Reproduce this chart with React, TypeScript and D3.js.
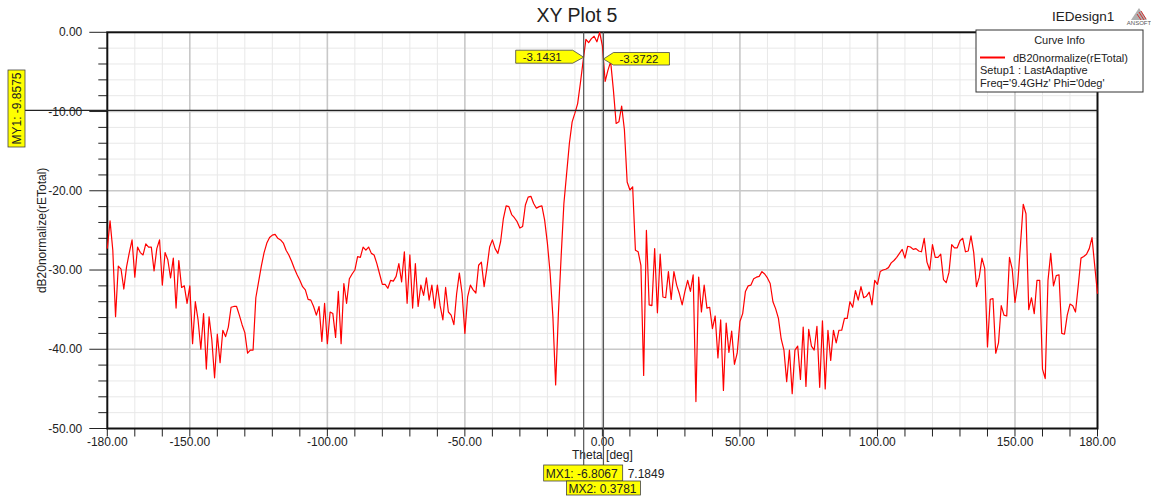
import * as d3 from "d3";

// Theta sweep -180..180 deg, 1 deg step (HFSS far-field cut)
const theta = d3.range(-180, 181, 1);

// dB20normalize(rETotal), one value per degree
const rETotalDb = [
  -27.3, -23.8, -27.5, -35.9, -29.5, -29.9, -32.4, -29.6, -27.8, -26.2,
  -30.9, -27.1, -27.8, -28.1, -26.7, -27.1, -27.1, -30.1, -27.3, -26.2,
  -31.9, -27.8, -28.7, -31.0, -28.5, -34.8, -28.8, -32.2, -32.0, -34.2,
  -32.0, -39.3, -34.0, -36.3, -40.0, -35.5, -42.5, -35.9, -38.8, -43.6,
  -38.1, -41.7, -37.6, -38.4, -37.2, -34.7, -34.6, -34.6, -35.7, -36.9,
  -37.9, -40.5, -40.1, -40.1, -33.5, -31.5, -29.5, -27.8, -26.6, -25.9,
  -25.6, -25.5, -26.0, -26.2, -26.6, -27.5, -28.1, -28.9, -29.8, -30.6,
  -31.3, -32.1, -32.5, -33.7, -33.8, -34.6, -35.7, -34.6, -39.0, -34.2,
  -39.3, -35.3, -35.5, -38.5, -32.7, -39.3, -31.7, -34.2, -31.1, -30.5,
  -30.0, -28.3, -28.4, -27.1, -27.5, -27.1, -27.9, -28.1, -29.2, -30.5,
  -31.8, -31.8, -32.3, -31.3, -31.4, -30.8, -29.2, -31.5, -27.7, -34.2,
  -28.1, -34.8, -29.2, -34.6, -31.9, -33.2, -31.0, -33.8, -31.9, -34.8,
  -31.9, -34.5, -36.3, -32.2, -35.3, -35.7, -36.9, -33.0, -30.4, -33.0,
  -38.0, -33.4, -31.9, -32.5, -32.9, -29.4, -29.0, -32.1, -29.8, -27.1,
  -26.2, -27.3, -27.9, -26.4, -23.5, -21.9, -22.0, -23.0, -23.4, -23.9,
  -24.7, -24.5, -21.8, -20.8, -20.7, -21.6, -22.2, -22.0, -21.9, -23.7,
  -26.6, -30.4, -35.9, -44.5, -35.5, -28.3, -21.6, -17.8, -14.0, -11.3,
  -10.2, -9.0, -6.4, -3.6, -0.9, -1.3, -0.8, -0.5, -1.2, 0.0,
  -1.7, -6.2, -4.8, -3.7, -7.3, -11.5, -11.3, -9.3, -12.3, -18.9,
  -19.9, -19.5, -27.5, -27.7, -29.4, -43.3, -25.0, -34.4, -34.5, -27.3,
  -35.4, -28.0, -33.4, -33.5, -30.2, -33.7, -30.2, -31.9, -33.0, -34.4,
  -32.7, -31.3, -32.7, -30.6, -46.6, -30.9, -35.3, -31.9, -34.8, -34.7,
  -37.4, -35.8, -41.1, -36.3, -45.2, -36.7, -40.4, -37.7, -41.9, -40.5,
  -36.5, -35.5, -32.7, -32.0, -31.9, -31.1, -30.9, -30.8, -30.2, -30.5,
  -31.0, -31.7, -34.0, -34.9, -36.1, -38.7, -40.1, -44.1, -40.1, -45.6,
  -40.1, -39.6, -43.8, -37.2, -44.7, -37.5, -39.6, -40.1, -37.1, -44.8,
  -36.4, -45.0, -37.6, -41.4, -37.6, -39.2, -37.6, -37.6, -36.1, -36.1,
  -34.0, -34.7, -32.6, -33.8, -32.1, -33.5, -33.3, -32.8, -34.4, -31.3,
  -31.8, -30.2, -30.0, -29.9, -29.7, -29.1, -28.8, -28.4, -27.9, -27.4,
  -28.5, -27.0, -27.1, -27.4, -27.3, -27.6, -27.7, -26.0, -29.0, -30.0,
  -26.8, -28.4, -28.4, -28.0, -31.2, -31.6, -30.3, -26.8, -27.2, -27.2,
  -26.3, -26.0, -27.7, -27.6, -25.7, -27.8, -32.1, -30.9, -28.5, -29.8,
  -39.7, -33.7, -33.6, -40.5, -39.2, -34.5, -35.7, -35.8, -28.4, -29.9,
  -34.1, -31.7, -26.8, -21.7, -22.9, -35.0, -33.5, -35.5, -31.3, -31.3,
  -42.5, -43.7, -31.3, -27.9, -32.0, -30.7, -30.6, -38.0, -38.1, -35.7,
  -34.3, -34.5, -35.3, -32.0, -28.5, -28.3, -28.0, -27.3, -25.9, -29.5,
  -33.0,
];

const xTicks = [-180, -150, -100, -50, 0, 50, 100, 150, 180];
const yTicks = [0, -10, -20, -30, -40, -50];

const mx1 = { name: "MX1", theta: -6.8067, value: -3.1431 };
const mx2 = { name: "MX2", theta: 0.3781, value: -3.3722 };
const my1 = { name: "MY1", value: -9.8575 };
const mxDelta = "7.1849";

const legendLines = ["Setup1 : LastAdaptive", "Freq='9.4GHz' Phi='0deg'"];

const FONT = "'Liberation Sans', Arial, sans-serif";

export default function App() {
  const width = 1151;
  const height = 502;
  const plot = { left: 107.3, right: 1097.5, top: 32.3, bottom: 428.5 };

  const x = d3.scaleLinear().domain([-180, 180]).range([plot.left, plot.right]);
  const y = d3.scaleLinear().domain([-50, 0]).range([plot.bottom, plot.top]);

  const minorX = d3.range(-170, 180, 10);
  const minorY = d3.range(-48, 0, 2);

  const line = d3
    .line<number>()
    .x((_, i) => x(theta[i]))
    .y((d) => y(d));

  const m1x = x(mx1.theta);
  const m2x = x(mx2.theta);
  const m1y = y(mx1.value);
  const m2y = y(mx2.value);
  const myY = y(my1.value);

  return (
    <svg
      width={width}
      height={height}
      style={{ position: "absolute", left: 0, top: 0, background: "#fff" }}
      fontFamily={FONT}
    >
      {/* minor grid */}
      <g stroke="#e8e8e8" strokeWidth={1}>
        {minorX.filter((v) => v % 50 !== 0).map((v) => (
          <line key={`mx${v}`} x1={x(v)} x2={x(v)} y1={plot.top} y2={plot.bottom} />
        ))}
        {minorY.filter((v) => v % 10 !== 0).map((v) => (
          <line key={`my${v}`} x1={plot.left} x2={plot.right} y1={y(v)} y2={y(v)} />
        ))}
      </g>
      {/* major grid */}
      <g stroke="#c8c8c8" strokeWidth={1.6}>
        {minorX.filter((v) => v % 50 === 0).map((v) => (
          <line key={`Mx${v}`} x1={x(v)} x2={x(v)} y1={plot.top} y2={plot.bottom} />
        ))}
        {minorY.filter((v) => v % 10 === 0).map((v) => (
          <line key={`My${v}`} x1={plot.left} x2={plot.right} y1={y(v)} y2={y(v)} />
        ))}
      </g>

      {/* ticks */}
      <g stroke="#222" strokeWidth={1}>
        {d3.range(-50, 1, 2).map((v) => (
          <line key={`yt${v}`} x1={v % 10 === 0 ? plot.left - 18 : plot.left - 9} x2={plot.left} y1={y(v)} y2={y(v)} />
        ))}
        {d3.range(-180, 181, 10).map((v) => (
          <line key={`xt${v}`} x1={x(v)} x2={x(v)} y1={plot.bottom} y2={plot.bottom + 8} />
        ))}
      </g>
      <g fontSize={12} fill="#222">
        {yTicks.map((v) => (
          <text key={`yl${v}`} x={plot.left - 25} y={y(v) + 4} textAnchor="end">
            {v.toFixed(2)}
          </text>
        ))}
        {xTicks.map((v) => (
          <text key={`xl${v}`} x={x(v)} y={plot.bottom + 17} textAnchor="middle">
            {v.toFixed(2)}
          </text>
        ))}
        <text x={x(0)} y={459} textAnchor="middle">Theta [deg]</text>
        <text transform={`translate(46, ${(plot.top + plot.bottom) / 2}) rotate(-90)`} textAnchor="middle">
          dB20normalize(rETotal)
        </text>
      </g>

      {/* frame */}
      <rect x={plot.left} y={plot.top} width={plot.right - plot.left} height={plot.bottom - plot.top} fill="none" stroke="#111" strokeWidth={2} />

      {/* curve */}
      <path d={line(rETotalDb) ?? ""} fill="none" stroke="#ff0000" strokeWidth={1.2} strokeLinejoin="round" />

      {/* markers */}
      <line x1={25} x2={plot.right} y1={myY} y2={myY} stroke="#222" strokeWidth={1.2} />
      <line x1={m1x} x2={m1x} y1={plot.top} y2={465} stroke="#555" strokeWidth={1.2} />
      <line x1={m2x} x2={m2x} y1={plot.top} y2={481} stroke="#555" strokeWidth={1.2} />

      <g fontSize={11.5} fill="#222">
        <path
          d={`M${m1x - 68},${m1y - 7} L${m1x - 11},${m1y - 7} L${m1x},${m1y} L${m1x - 11},${m1y + 6} L${m1x - 68},${m1y + 6} Z`}
          fill="#ffff00"
          stroke="#444"
          strokeWidth={0.8}
        />
        <text x={m1x - 61} y={m1y + 4}>{mx1.value.toFixed(4)}</text>
        <path
          d={`M${m2x},${m2y} L${m2x + 10},${m2y - 6.5} L${m2x + 66},${m2y - 6.5} L${m2x + 66},${m2y + 6} L${m2x + 10},${m2y + 6} Z`}
          fill="#ffff00"
          stroke="#444"
          strokeWidth={0.8}
        />
        <text x={m2x + 16} y={m2y + 4}>{mx2.value.toFixed(4)}</text>

        <rect x={8} y={70} width={17} height={77} fill="#ffff00" stroke="#444" strokeWidth={0.8} />
        <text transform={`translate(21, 108.5) rotate(-90)`} textAnchor="middle" fontSize={12}>
          {`${my1.name}: ${my1.value}`}
        </text>

        <rect x={m1x - 40} y={465} width={79} height={16} fill="#ffff00" stroke="#444" strokeWidth={0.8} />
        <text x={m1x - 38} y={477.5} fontSize={12}>{`${mx1.name}: ${mx1.theta}`}</text>
        <text x={m1x + 44} y={477.5} fontSize={12}>{mxDelta}</text>
        <rect x={m2x - 37} y={481} width={74} height={14} fill="#ffff00" stroke="#444" strokeWidth={0.8} />
        <text x={m2x - 35} y={492.5} fontSize={12}>{`${mx2.name}: ${mx2.theta}`}</text>
      </g>

      {/* title & design name */}
      <text x={577} y={22} textAnchor="middle" fontSize={19.5} fill="#222">XY Plot 5</text>
      <text x={1052} y={21} fontSize={13.5} fill="#222">IEDesign1</text>
      <g>
        <path d="M1139,8 L1131,20 L1147,20 Z" fill="#b0b0b0" />
        <path d="M1137,14 L1141,20 M1139,12 L1144,20 M1141,11 L1146,19" stroke="#d03030" strokeWidth={1} />
        <text x={1139} y={25} fontSize={6} textAnchor="middle" fill="#555">ANSOFT</text>
      </g>

      {/* legend */}
      <rect x={976} y={30} width={167} height={62} fill="#fff" stroke="#333" strokeWidth={1} />
      <text x={1059.5} y={44} textAnchor="middle" fontSize={11} fill="#222">Curve Info</text>
      <line x1={980} x2={1005} y1={57.5} y2={57.5} stroke="#ff0000" strokeWidth={2} />
      <text x={1013} y={61.5} fontSize={11} fill="#222">dB20normalize(rETotal)</text>
      {legendLines.map((t, i) => (
        <text key={t} x={980} y={74 + i * 13} fontSize={11} fill="#222">{t}</text>
      ))}
    </svg>
  );
}
